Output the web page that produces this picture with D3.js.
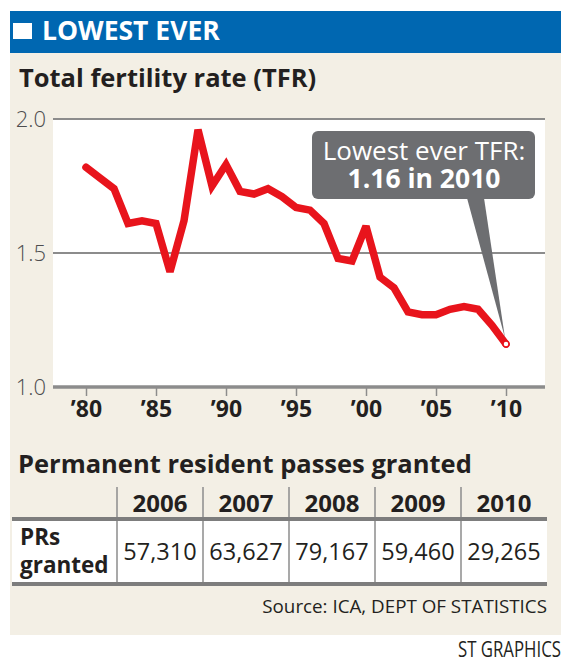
<!DOCTYPE html>
<html>
<head>
<meta charset="utf-8">
<script src="https://cdn.jsdelivr.net/npm/d3@7"></script>
<style>
  body { margin: 0; background: #fff; }
  svg { display: block; font-family: "Open Sans", "Noto Sans", sans-serif; }
</style>
</head>
<body>
<script>
// page size
var W = 561;
var H = 658;

// TFR by year
var years = [1980, 1981, 1982, 1983, 1984, 1985, 1986, 1987, 1988, 1989,
             1990, 1991, 1992, 1993, 1994, 1995, 1996, 1997, 1998, 1999,
             2000, 2001, 2002, 2003, 2004, 2005, 2006, 2007, 2008, 2009, 2010];
var tfr = [1.82, 1.78, 1.74, 1.61, 1.62, 1.61, 1.43, 1.62, 1.96, 1.75,
           1.83, 1.73, 1.72, 1.74, 1.71, 1.67, 1.66, 1.61, 1.48, 1.47,
           1.60, 1.41, 1.37, 1.28, 1.27, 1.27, 1.29, 1.30, 1.29, 1.23, 1.16];
var yTicks = [1.0, 1.5, 2.0];
var xTicks = [1980, 1985, 1990, 1995, 2000, 2005, 2010];

// table
var prYears = ["2006", "2007", "2008", "2009", "2010"];
var prGranted = [57310, 63627, 79167, 59460, 29265];

function main() {
  var svg = d3.select("body").append("svg")
      .attr("width", W)
      .attr("height", H);

  //beige panel and blue header
  svg.append("rect").attr("x", 10).attr("y", 53).attr("width", W - 10).attr("height", 582)
      .attr("fill", "#f3efe5");
  svg.append("rect").attr("x", 10).attr("y", 11).attr("width", W - 10).attr("height", 42)
      .attr("fill", "#0067b1");
  svg.append("rect").attr("x", 13).attr("y", 23).attr("width", 19).attr("height", 16)
      .attr("fill", "#fff");
  svg.append("text").attr("x", 42).attr("y", 40)
      .attr("fill", "#fff").attr("font-size", 26.5).attr("font-weight", 700)
      .text("LOWEST EVER");

  svg.append("text").attr("x", 19).attr("y", 87)
      .attr("fill", "#231f20").attr("font-size", 25.5).attr("font-weight", 700)
      .text("Total fertility rate (TFR)");

  drawChart(svg);
  drawTable(svg);

  svg.append("text").attr("x", 547).attr("y", 613).attr("text-anchor", "end")
      .attr("fill", "#231f20").attr("font-size", 18.8)
      .text("Source: ICA, DEPT OF STATISTICS");
  svg.append("text").attr("x", 458).attr("y", 657)
      .attr("fill", "#231f20").attr("font-size", 21)
      .attr("transform", "translate(458,0) scale(0.8,1) translate(-458,0)")
      .text("ST GRAPHICS");
}

function drawChart(svg) {
  var left = 53, right = 545, top = 119, bottom = 387;
  var xScale = d3.scaleLinear().domain([1980, 2010]).range([86, 506]);
  var yScale = d3.scaleLinear().domain([1.0, 2.0]).range([bottom, top]);

  svg.append("rect").attr("x", left).attr("y", top)
      .attr("width", right - left).attr("height", bottom - top)
      .attr("fill", "#fff");

  //gridlines
  svg.append("g").selectAll("line")
      .data(yTicks.filter(function(d) { return d > 1.0; }))
      .enter().append("line")
      .attr("x1", left).attr("x2", right)
      .attr("y1", function(d) { return yScale(d); })
      .attr("y2", function(d) { return yScale(d); })
      .attr("stroke", "#8c8c8c").attr("stroke-width", 1.8);

  //y labels
  svg.append("g").selectAll("text")
      .data(yTicks)
      .enter().append("text")
      .attr("x", 46)
      .attr("y", function(d) { return yScale(d); })
      .attr("dy", "0.35em")
      .attr("text-anchor", "end")
      .attr("fill", "#4d4d4f").attr("font-size", 22).attr("font-weight", 300)
      .text(function(d) { return d3.format(".1f")(d); });

  //x axis
  var xAxis = d3.axisBottom(xScale)
      .tickValues(xTicks)
      .tickSize(9)
      .tickFormat(function(d) { return "\u2019" + String(d).slice(2); });
  var g = svg.append("g")
      .attr("transform", "translate(0," + bottom + ")")
      .call(xAxis);
  g.select(".domain").remove();
  g.selectAll(".tick line").attr("stroke", "#8c8c8c").attr("stroke-width", 1.5);
  g.selectAll(".tick text")
      .attr("y", 14).attr("dy", "0.71em")
      .attr("fill", "#231f20").attr("font-size", 23).attr("font-weight", 700)
      .attr("font-family", "\"Open Sans\", sans-serif");
  svg.append("line")
      .attr("x1", left).attr("x2", right)
      .attr("y1", bottom).attr("y2", bottom)
      .attr("stroke", "#8c8c8c").attr("stroke-width", 3.5);

  //the TFR line
  var line = d3.line()
      .x(function(d, i) { return xScale(years[i]); })
      .y(function(d) { return yScale(d); });
  svg.append("path")
      .datum(tfr)
      .attr("d", line)
      .attr("fill", "none")
      .attr("stroke", "#e8141c")
      .attr("stroke-width", 7.5)
      .attr("stroke-linejoin", "miter")
      .attr("stroke-miterlimit", 3)
      .attr("stroke-linecap", "round");

  //callout
  var last = tfr.length - 1;
  var px = xScale(years[last]), py = yScale(tfr[last]);
  svg.append("path")
      .attr("d", "M467,198 L484,198 L" + (px - 1) + "," + (py - 6) + " Z")
      .attr("fill", "#6d6e71");
  svg.append("rect").attr("x", 312).attr("y", 131).attr("width", 223).attr("height", 68)
      .attr("rx", 6).attr("fill", "#6d6e71");
  svg.append("text").attr("x", 424).attr("y", 160).attr("text-anchor", "middle")
      .attr("fill", "#fff").attr("font-size", 26)
      .text("Lowest ever TFR:");
  svg.append("text").attr("x", 424).attr("y", 188).attr("text-anchor", "middle")
      .attr("fill", "#fff").attr("font-size", 26.5).attr("font-weight", 700)
      .text(d3.format(".2f")(tfr[last]) + " in " + years[last]);

  svg.append("circle").attr("cx", px).attr("cy", py).attr("r", 3)
      .attr("fill", "#fff").attr("stroke", "#e8141c").attr("stroke-width", 1.5);
}

function drawTable(svg) {
  var x0 = 12, x1 = 547;
  var col = d3.scaleBand().domain(prYears).range([117, x1]);

  svg.append("text").attr("x", 18).attr("y", 473)
      .attr("fill", "#231f20").attr("font-size", 25.5).attr("font-weight", 700)
      .text("Permanent resident passes granted");

  svg.append("rect").attr("x", x0).attr("y", 521).attr("width", x1 - x0).attr("height", 61)
      .attr("fill", "#fff");

  //column separators
  svg.append("g").selectAll("line")
      .data(prYears)
      .enter().append("line")
      .attr("x1", function(d) { return col(d); })
      .attr("x2", function(d) { return col(d); })
      .attr("y1", 487).attr("y2", 582)
      .attr("stroke", "#8c8c8c").attr("stroke-width", 1.5);

  [519, 584].forEach(function(y) {
    svg.append("line").attr("x1", x0).attr("x2", x1).attr("y1", y).attr("y2", y)
        .attr("stroke", "#7d7d7d").attr("stroke-width", 4);
  });

  svg.append("g").selectAll("text")
      .data(prYears)
      .enter().append("text")
      .attr("x", function(d) { return col(d) + col.bandwidth() / 2; })
      .attr("y", 512)
      .attr("text-anchor", "middle")
      .attr("fill", "#231f20").attr("font-size", 24).attr("font-weight", 700)
      .text(function(d) { return d; });

  svg.append("g").selectAll("text")
      .data(prGranted)
      .enter().append("text")
      .attr("x", function(d, i) { return col(prYears[i]) + col.bandwidth() / 2; })
      .attr("y", 560)
      .attr("text-anchor", "middle")
      .attr("fill", "#231f20").attr("font-size", 23.5)
      .text(function(d) { return d3.format(",")(d); });

  svg.append("text").attr("x", 20).attr("y", 545)
      .attr("fill", "#231f20").attr("font-size", 22.5).attr("font-weight", 700)
      .text("PRs");
  svg.append("text").attr("x", 20).attr("y", 573)
      .attr("fill", "#231f20").attr("font-size", 22.5).attr("font-weight", 700)
      .text("granted");
}

main();
</script>
</body>
</html>
